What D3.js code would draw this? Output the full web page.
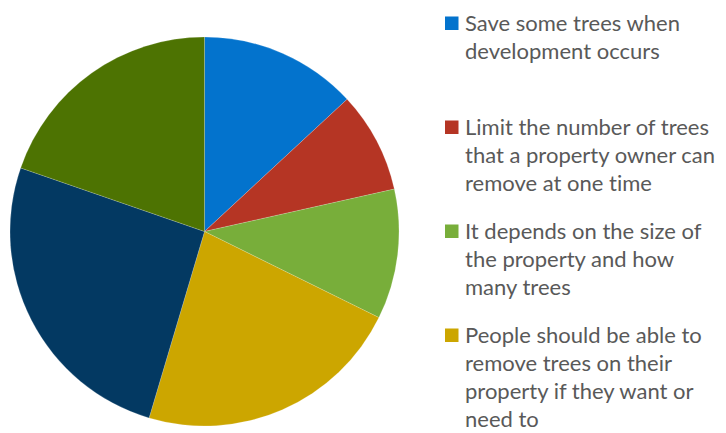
<!DOCTYPE html>
<html>
<head>
<meta charset="utf-8">
<script src="https://cdn.jsdelivr.net/npm/d3@7"></script>
<style>
  html, body { margin: 0; padding: 0; background: #fff; }
  svg { display: block; }
</style>
</head>
<body>
<div id="output"></div>
<script>
(function () {

"use strict";

// slice labels, in drawing order (clockwise from 12 o'clock)
var categories = [
  ["Save some trees when", "development occurs"],
  ["Limit the number of trees", "that a property owner can", "remove at one time"],
  ["It depends on the size of", "the property and how", "many trees"],
  ["People should be able to", "remove trees on their", "property if they want or", "need to"],
  null,   // legend entry cut off below the picture
  null
]
// share of answers, percent
var values = [13.1, 8.4, 10.8, 22.3, 25.7, 19.7]
var colors = ["#0373cd", "#b53524", "#78ae3a", "#cca600", "#033962", "#4d7302"]

var width = 726
  , height = 433
  , cx = 204.5
  , cy = 231.5
  , radius = 194.5

var svg = d3.select("#output").append("svg").attr("width", width).attr("height", height)

var pie = d3.pie().sort(null).value(function (d) { return d })
  , arc = d3.arc().innerRadius(0).outerRadius(radius)

// The pie
svg.append("g")
  .attr("transform", "translate(" + cx + "," + cy + ")")
  .selectAll("path")
  .data(pie(values))
  .enter().append("path")
    .attr("d", arc)
    .style("fill", function (d, i) { return colors[i] })
    .style("stroke", "#ffffff")
    .style("stroke-opacity", 0.35)
    .style("stroke-width", 0.5)

// Legend, fixed height per entry
var legendX = 445
  , legendY = 16.5
  , entryStep = 104
  , lineHeight = 28.3

var entries = svg.append("g")
  .selectAll("g")
  .data(categories.map(function (c, i) { return { lines: c, i: i } }).filter(function (d) { return d.lines }))
  .enter().append("g")
    .attr("transform", function (d, i) { return "translate(" + legendX + "," + (legendY + i*entryStep) + ")" })

entries.append("rect")
  .attr("x", 0).attr("y", 0)
  .attr("width", 13.5).attr("height", 13.5)
  .style("fill", function (d) { return colors[d.i] })

entries.append("text")
  .attr("x", 20).attr("y", 14)
  .style("font-family", "Lato, 'Open Sans', sans-serif")
  .style("font-size", "22px")
  .style("font-variant-ligatures", "none")
  .style("fill", "#595959")
  .selectAll("tspan")
  .data(function (d) { return d.lines })
  .enter().append("tspan")
    .attr("x", 20)
    .attr("dy", function (d, i) { return i ? lineHeight : 0 })
    .text(function (d) { return d })

}())
</script>
</body>
</html>
